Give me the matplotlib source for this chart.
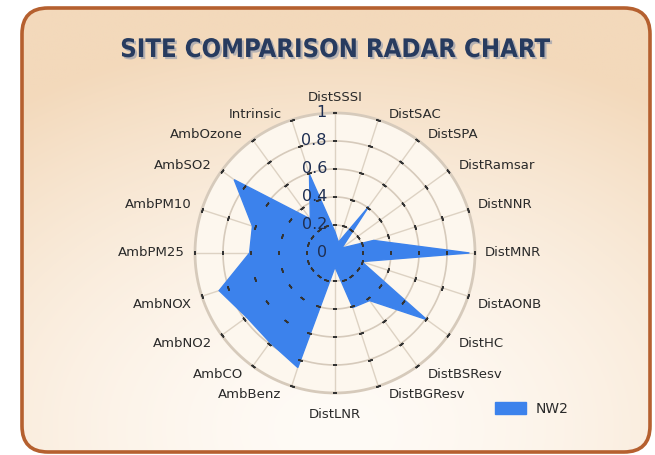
import numpy as np
import matplotlib
matplotlib.use("Agg")
import matplotlib.pyplot as plt
import matplotlib.patheffects as pe
from matplotlib.patches import FancyBboxPatch
from matplotlib.colors import to_rgb

# categories clockwise from the top
categories = [
    "DistSSSI", "DistSAC", "DistSPA", "DistRamsar", "DistNNR", "DistMNR",
    "DistAONB", "DistHC", "DistBSResv", "DistBGResv", "DistLNR", "AmbBenz",
    "AmbCO", "AmbNO2", "AmbNOX", "AmbPM25", "AmbPM10", "AmbSO2", "AmbOzone",
    "Intrinsic",
]
nw2 = [
    0.15, 0.08, 0.41, 0.06, 0.29, 0.96,
    0.20, 0.81, 0.42, 0.41, 0.10, 0.86,
    0.79, 0.78, 0.87, 0.61, 0.62, 0.89, 0.30,
    0.59,
]
series_name = "NW2"
ring_values = [0.2, 0.4, 0.6, 0.8, 1.0]
ring_labels = ["0", "0.2", "0.4", "0.6", "0.8", "1"]
title = "SITE COMPARISON RADAR CHART"

fig = plt.figure(figsize=(6.55, 4.55), dpi=100)
fig.patch.set_facecolor("white")

# background panel with rounded border and soft gradient
bg = fig.add_axes([0, 0, 1, 1])
bg.axis("off")
box = FancyBboxPatch((22, 8), 628, 444, boxstyle="round,pad=0,rounding_size=26",
                     facecolor="none", edgecolor="#b5602f", linewidth=2.6, zorder=3)
bg.add_patch(box)
gy, gx = np.mgrid[0:1:220j, 0:1:320j]
dist = np.sqrt(((gx - 0.5) / 0.9) ** 2 + ((gy - 0.95) / 0.9) ** 2)
t = np.clip(dist, 0, 1) ** 1.6
inner = np.array(to_rgb("#fffbf6"))
outer = np.array(to_rgb("#f3d9bb"))
grad = inner[None, None, :] * (1 - t[..., None]) + outer[None, None, :] * t[..., None]
im = bg.imshow(grad, extent=(22, 650, 452, 8), aspect="auto", zorder=1)
im.set_clip_path(box)
bg.set_xlim(0, 655)
bg.set_ylim(455, 0)

bg.text(335, 50, title, ha="center", va="center", fontsize=18.4, fontweight="bold",
        fontstretch="condensed", color="#273b5f", zorder=4,
        path_effects=[pe.SimplePatchShadow(offset=(1.5, -1.5), shadow_rgbFace="#8c96ab", alpha=0.6),
                      pe.Normal()])

# radar
ax = fig.add_axes([0.2977, 0.1363, 0.4275, 0.6154], projection="polar")
ax.set_theta_zero_location("N")
ax.set_theta_direction(-1)
ax.set_ylim(0, 1)
ax.set_xticks([])
ax.set_yticks([])
ax.grid(False)
ax.spines["polar"].set_visible(False)
ax.set_facecolor("#fdf7ee")

n = len(categories)
theta = np.arange(n) * 2 * np.pi / n
circle = np.linspace(0, 2 * np.pi, 361)

for th in theta:
    ax.plot([th, th], [0, 1], color="#ddd2c3", lw=1.0, zorder=1)
for r in ring_values:
    ax.plot(circle, np.full_like(circle, r), color="#d6cabb",
            lw=2.0 if r == 1.0 else 1.2, zorder=1, clip_on=False)

th_closed = np.append(theta, theta[0])
v_closed = np.append(nw2, nw2[0])
ax.fill(th_closed, v_closed, color="#3c82ec", zorder=2, label=series_name)

# small tick marks across every spoke at each ring
for th in theta:
    rot = 90 - np.degrees(th)
    ax.plot([th] * len(ring_values), ring_values, linestyle="none",
            marker=(2, 2, rot), markersize=3.2, markeredgewidth=1.2,
            color="#333333", zorder=3, clip_on=False)

for r, lab in zip([0] + ring_values, ring_labels):
    ax.annotate(lab, xy=(0, r), xytext=(-8, 0), textcoords="offset pixels",
                ha="right", va="center", fontsize=11.5, color="#1f2f52", zorder=4)

for th, name in zip(theta, categories):
    deg = np.degrees(th)
    if np.isclose(deg, 0):
        ha, va, off = "center", "bottom", (0, 9)
    elif np.isclose(deg, 180):
        ha, va, off = "center", "top", (0, -15)
    else:
        side = 1 if deg < 180 else -1
        ha = "left" if side > 0 else "right"
        up = np.cos(th)
        if abs(up) < 0.1:
            va, dy = "center", 0
        elif up > 0:
            va, dy = "bottom", -1
        else:
            va, dy = "top", -2
        off = (10 * side, dy)
    ax.annotate(name, xy=(th, 1), xytext=off, textcoords="offset pixels",
                ha=ha, va=va, fontsize=9.5, color="#2a2a2a", annotation_clip=False)

fig.legend(loc="center left", bbox_to_anchor=(495 / 655, 1 - 409 / 455),
           frameon=False, borderpad=0, borderaxespad=0, handlelength=2.2,
           handleheight=0.9, handletextpad=0.7, prop={"size": 10},
           labelcolor="#2a2a2a")

fig.savefig("out.png", dpi=100)
